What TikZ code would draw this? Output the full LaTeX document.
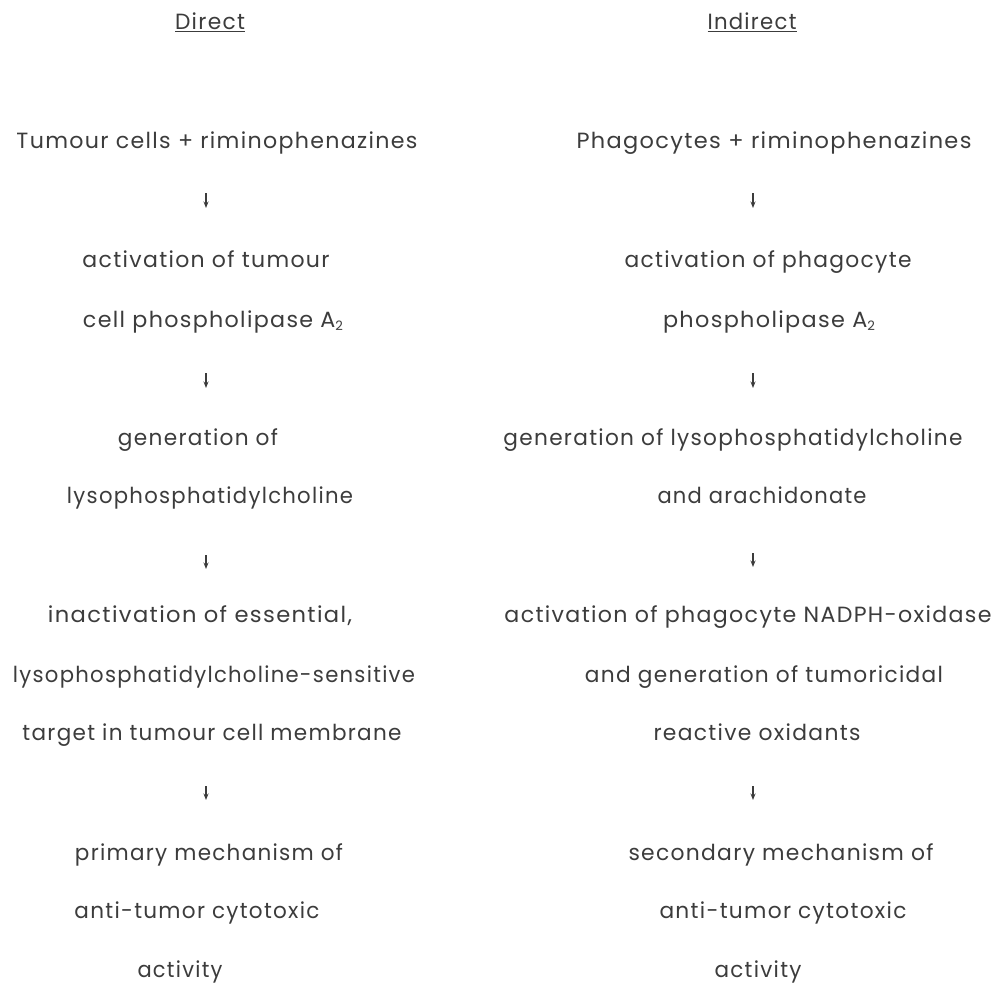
\documentclass[tikz,border=0pt]{standalone}
\usepackage{fontspec}
\usepackage{graphicx}
\setmainfont{Poppins}[LetterSpace=6]
\usetikzlibrary{arrows.meta}
\definecolor{ink}{RGB}{60,60,60}
\newcommand\fitw[2]{\resizebox{#1pt}{\height}{#2}}
\newcommand\lowsub[1]{\raisebox{-0.3ex}{\fontsize{13}{15}\selectfont #1}}
\begin{document}
\begin{tikzpicture}[x=1pt,y=-1pt,
  txt/.style={anchor=base,inner sep=0pt,text=ink,font=\fontsize{22}{26}\selectfont},
  flow/.style={draw=ink,line width=1.2pt,-{Stealth[length=6.5pt,width=5pt]}}]
\useasboundingbox[fill=white] (0,0) rectangle (998,985);
% headers
\node[txt] (hdL) at (210,30) {\fitw{70}{\underline{Direct}}};
\node[txt] (hdR) at (752,30) {\fitw{89}{\underline{Indirect}}};
% left column
\node[txt] (L1) at (217,148) {\fitw{401}{Tumour cells + riminophenazines}};
\node[txt] (L2) at (206,267) {\fitw{247}{activation of tumour}};
\node[txt] (L3) at (213,327) {\fitw{260}{cell phospholipase A\lowsub{2}}};
\node[txt] (L4) at (198,445) {\fitw{160}{generation of}};
\node[txt] (L5) at (210,503) {\fitw{286}{lysophosphatidylcholine}};
\node[txt] (L6) at (200,622) {\fitw{304}{inactivation of essential,}};
\node[txt] (L7) at (214,682) {\fitw{402}{lysophosphatidylcholine-sensitive}};
\node[txt] (L8) at (212,740) {\fitw{379}{target in tumour cell membrane}};
\node[txt] (L9) at (209,860) {\fitw{268}{primary mechanism of}};
\node[txt] (L10) at (197,918) {\fitw{245}{anti-tumor cytotoxic}};
\node[txt] (L11) at (180,977) {\fitw{85}{activity}};
% right column
\node[txt] (R1) at (774,148) {\fitw{395}{Phagocytes + riminophenazines}};
\node[txt] (R2) at (768,267) {\fitw{287}{activation of phagocyte}};
\node[txt] (R3) at (769,327) {\fitw{212}{phospholipase A\lowsub{2}}};
\node[txt] (R4) at (733,445) {\fitw{459}{generation of lysophosphatidylcholine}};
\node[txt] (R5) at (762,503) {\fitw{209}{and arachidonate}};
\node[txt] (R6) at (748,622) {\fitw{487}{activation of phagocyte NADPH-oxidase}};
\node[txt] (R7) at (764,682) {\fitw{358}{and generation of tumoricidal}};
\node[txt] (R8) at (757,740) {\fitw{207}{reactive oxidants}};
\node[txt] (R9) at (781,860) {\fitw{305}{secondary mechanism of}};
\node[txt] (R10) at (783,918) {\fitw{247}{anti-tumor cytotoxic}};
\node[txt] (R11) at (758,977) {\fitw{87}{activity}};
% arrow end points
\coordinate (la1) at (206,193); \coordinate (lb1) at (206,208);
\coordinate (la2) at (206,373); \coordinate (lb2) at (206,388);
\coordinate (la3) at (206,555); \coordinate (lb3) at (206,569);
\coordinate (la4) at (206,786); \coordinate (lb4) at (206,800);
\coordinate (ra1) at (753,193); \coordinate (rb1) at (753,208);
\coordinate (ra2) at (753,373); \coordinate (rb2) at (753,388);
\coordinate (ra3) at (753,553); \coordinate (rb3) at (753,567);
\coordinate (ra4) at (753,786); \coordinate (rb4) at (753,800);
\foreach \i in {1,2,3,4}{
  \draw[flow] (la\i) -- (lb\i);
  \draw[flow] (ra\i) -- (rb\i);
}
\end{tikzpicture}
\end{document}
